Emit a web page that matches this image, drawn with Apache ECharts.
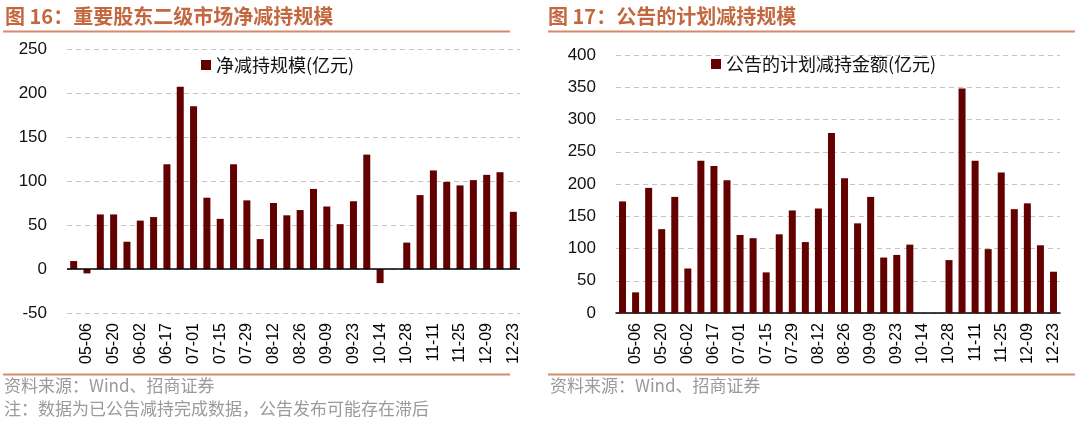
<!DOCTYPE html>
<html><head><meta charset="utf-8">
<script src="https://cdn.jsdelivr.net/npm/echarts@6/dist/echarts.min.js"></script>
<style>html,body{margin:0;padding:0;background:#fff}#c{width:1080px;height:425px}</style>
</head><body><div id="c"></div>
<script>
const categories = ['04-29','05-06','05-13','05-20','05-27','06-02','06-10','06-17','06-24','07-01',
  '07-08','07-15','07-22','07-29','08-05','08-12','08-19','08-26','09-02','09-09',
  '09-16','09-23','09-30','10-14','10-21','10-28','11-04','11-11','11-18','11-25',
  '12-02','12-09','12-16','12-23'];
const netReduction = [9,-5,62,62,31,55,59,119,207,185,
  81,57,119,78,34,75,61,67,91,71,
  51,77,130,-16,null,30,84,112,99,95,
  101,107,110,65];
const plannedReduction = [173,32,194,130,180,69,236,228,206,121,
  116,63,122,159,110,162,279,209,139,180,
  86,90,106,null,null,82,348,236,99,218,
  161,170,105,64];
const leftName = '净减持规模(亿元)';
const rightName = '公告的计划减持金额(亿元)';
const leftTitle = '图 16：重要股东二级市场净减持规模';
const rightTitle = '图 17：公告的计划减持规模';
const sourceText = '资料来源：Wind、招商证券';
const noteText = '注：数据为已公告减持完成数据，公告发布可能存在滞后';

const barColor = '#630000';
const titleColor = '#C4673F';
const lineColor = '#D58A6C';
const cjk = '"Noto Sans CJK SC", "Noto Sans", sans-serif';
const latin = '"Liberation Sans", Arial, sans-serif';

const chart = echarts.init(document.getElementById('c'), null, {renderer: 'canvas'});

function xAxisCfg(gi){
  return {
    type: 'category', gridIndex: gi, data: categories,
    axisLine: {show: gi === 1, onZero: false, lineStyle: {color: '#000', width: 1.5}},
    axisTick: {show: false},
    axisLabel: {rotate: 90, interval: (i) => i % 2 === 1, color: '#000', fontSize: 16,
      fontFamily: latin, margin: 10},
    splitLine: {show: false}
  };
}
function yAxisCfg(gi, min, max){
  return {
    type: 'value', gridIndex: gi, min: min, max: max, interval: 50,
    axisLine: {show: false}, axisTick: {show: false},
    axisLabel: {color: '#111', fontSize: 17, fontFamily: latin, margin: 20},
    splitLine: {show: true, lineStyle: {color: '#c4c4c4', type: [5, 4], width: 1}}
  };
}

const option = {
  animation: false,
  backgroundColor: '#fff',
  grid: [
    {left: 67, top: 49, width: 453, height: 264},
    {left: 616, top: 55, width: 444, height: 258}
  ],
  xAxis: [xAxisCfg(0), xAxisCfg(1)],
  yAxis: [yAxisCfg(0, -50, 250), yAxisCfg(1, 0, 400)],
  legend: [
    {data: [leftName], left: 196, top: 51, itemWidth: 10, itemHeight: 10, icon: 'rect',
      itemGap: 5, textStyle: {fontSize: 18, fontFamily: cjk, color: '#111'}},
    {data: [rightName], left: 706, top: 50, itemWidth: 10, itemHeight: 10, icon: 'rect',
      textStyle: {fontSize: 18, fontFamily: cjk, color: '#111'}}
  ],
  series: [
    {name: leftName, type: 'bar', xAxisIndex: 0, yAxisIndex: 0, data: netReduction,
      barWidth: 7, itemStyle: {color: barColor},
      markLine: {silent: true, symbol: 'none', label: {show: false},
        lineStyle: {color: '#000', type: 'solid', width: 1.5},
        data: [{yAxis: 0}]}},
    {name: rightName, type: 'bar', xAxisIndex: 1, yAxisIndex: 1, data: plannedReduction,
      barWidth: 7, itemStyle: {color: barColor}}
  ],
  graphic: [
    {type: 'text', left: 5, top: 6, style: {text: leftTitle, fill: titleColor, fontSize: 20, fontWeight: 'bold', fontFamily: cjk}},
    {type: 'text', left: 548, top: 6, style: {text: rightTitle, fill: titleColor, fontSize: 20, fontWeight: 'bold', fontFamily: cjk}},
    {type: 'line', shape: {x1: 3, y1: 31.5, x2: 510, y2: 31.5}, style: {stroke: lineColor, lineWidth: 2}},
    {type: 'line', shape: {x1: 548, y1: 31.5, x2: 1075, y2: 31.5}, style: {stroke: lineColor, lineWidth: 2}},
    {type: 'line', shape: {x1: 3, y1: 374.5, x2: 510, y2: 374.5}, style: {stroke: lineColor, lineWidth: 2}},
    {type: 'line', shape: {x1: 548, y1: 374.5, x2: 1075, y2: 374.5}, style: {stroke: lineColor, lineWidth: 2}},
    {type: 'text', left: 4, top: 377, style: {text: sourceText, fill: '#9a9a9a', fontSize: 17, fontFamily: cjk}},
    {type: 'text', left: 4, top: 400, style: {text: noteText, fill: '#9a9a9a', fontSize: 17, fontFamily: cjk}},
    {type: 'text', left: 550, top: 377, style: {text: sourceText, fill: '#9a9a9a', fontSize: 17, fontFamily: cjk}}
  ]
};
chart.setOption(option);
</script></body></html>
